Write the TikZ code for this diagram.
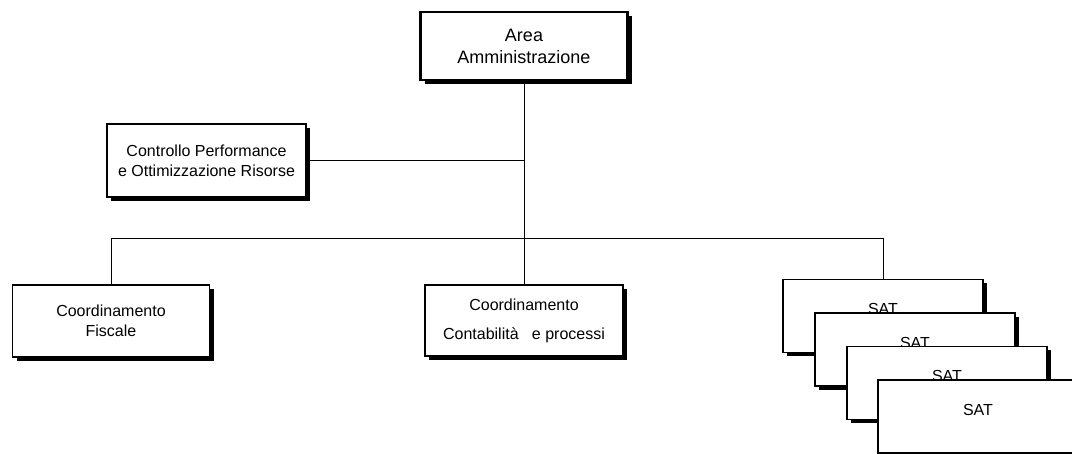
\documentclass[tikz,border=0pt]{standalone}
\usepackage{fontspec}
\setmainfont{Liberation Sans}
\usetikzlibrary{shadows}
\tikzset{
  orgnode/.style = {align=center, inner sep=0pt, text centered, fill=white,
    draw=black, line width=1.3pt, font=\fontsize{16}{20}\selectfont,
    general shadow={fill=black, shadow xshift=4pt, shadow yshift=-4pt}},
  org_top/.style = {orgnode, line width=2.6pt, minimum width=207pt,
    minimum height=68pt, font=\fontsize{18}{22}\selectfont},
  org_box/.style = {orgnode, minimum width=198pt, minimum height=72pt},
  org_sat/.style = {orgnode, minimum width=200pt, minimum height=73pt,
    text depth=14pt},
  link/.style = {line width=1pt}
}

\begin{document}
\begin{tikzpicture}[x=1pt,y=-1pt]
\useasboundingbox (0,0) rectangle (1072,454);
\node [org_top] (area) at (524,46) {Area\\Amministrazione};
\node [org_box, minimum width=199pt, minimum height=73pt] (ctrl) at (206.5,160.5)
  {Controllo Performance\\e Ottimizzazione Risorse};
\node [org_box, minimum width=197pt] (fisc) at (111,321) {Coordinamento\\Fiscale};
\node [org_box, minimum height=71pt] (cont) at (524,320.5)
  {Coordinamento\\[9pt]Contabilità\ \ \ e processi};
\node [org_sat] (sat1) at (883,316) {SAT};
\node [org_sat] (sat2) at (915,349.5) {SAT};
\node [org_sat] (sat3) at (947,383) {SAT};
\node [org_sat] (sat4) at (978,416.5) {SAT};
\coordinate (bus) at (524,239);
\draw [link] (area.south) -- (cont.north);
\draw [link] (ctrl.east) -- (ctrl.east -| area.south);
\draw [link] (fisc.north) -- (fisc.north |- bus) -- (sat1.north |- bus)
  -- (sat1.north);
\end{tikzpicture}
\end{document}
